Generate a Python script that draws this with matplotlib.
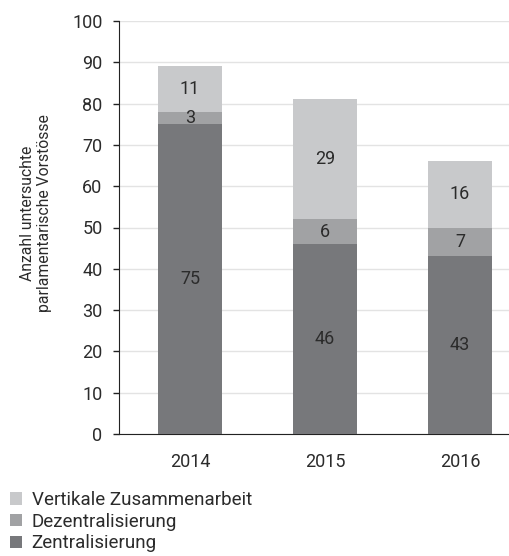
import matplotlib
matplotlib.use("Agg")
import matplotlib.pyplot as plt
from matplotlib.patches import Patch
import numpy as np

plt.rcParams['font.family'] = ['Roboto', 'DejaVu Sans']

years = ["2014", "2015", "2016"]
zentral = [75, 46, 43]
dezentral = [3, 6, 7]
vertikal = [11, 29, 16]
series_names = ["Zentralisierung", "Dezentralisierung", "Vertikale Zusammenarbeit"]
colors = ["#77787b", "#a1a2a4", "#c8c9cb"]
yticks = [0, 10, 20, 30, 40, 50, 60, 70, 80, 90, 100]

text_color = "#2b2b2b"
fs = 13

fig = plt.figure(figsize=(5.10, 5.56), dpi=100)
ax = fig.add_axes([119/510, 1-434/556, 1-119/510, (434-21)/556])

x = np.arange(len(years))
w = 0.48
bottom = np.zeros(len(years))
for vals, c in zip([zentral, dezentral, vertikal], colors):
    vals = np.array(vals, dtype=float)
    ax.bar(x, vals, w, bottom=bottom, color=c, zorder=3)
    for xi, b, v in zip(x, bottom, vals):
        ax.text(xi, b + v/2, f"{int(v)}", ha="center", va="center",
                fontsize=fs, color=text_color, zorder=4)
    bottom += vals

ax.set_xlim(-0.526, 2.37)
ax.set_ylim(0, 100)
ax.set_yticks(yticks)
ax.set_xticks(x)
ax.set_xticklabels(years)
ax.yaxis.grid(True, color="#e3e3e3", linewidth=1, zorder=0)
ax.set_axisbelow(True)
for s in ["top", "right"]:
    ax.spines[s].set_visible(False)
ax.spines["left"].set_color("#222222")
ax.spines["bottom"].set_color("#222222")
ax.tick_params(axis="y", length=4.3, width=1, color="#222222", labelsize=fs,
               labelcolor=text_color, pad=7.5)
ax.tick_params(axis="x", length=0, labelsize=fs, labelcolor=text_color, pad=14)

fig.text(36/510, 1-213/556, "Anzahl untersuchte\nparlamentarische Vorstösse",
         rotation=90, ha="center", va="center", multialignment="center",
         fontsize=11.3, color=text_color, linespacing=1.2)

handles = [Patch(facecolor=c, edgecolor="none") for c in colors[::-1]]
fig.legend(handles, series_names[::-1], loc="upper left",
           bbox_to_anchor=(10/510, 1-491/556), frameon=False, fontsize=13.5,
           handlelength=0.65, handleheight=0.65, handletextpad=0.5,
           labelspacing=0.2, borderaxespad=0, borderpad=0, labelcolor=text_color)

fig.savefig("out.png", dpi=100)
